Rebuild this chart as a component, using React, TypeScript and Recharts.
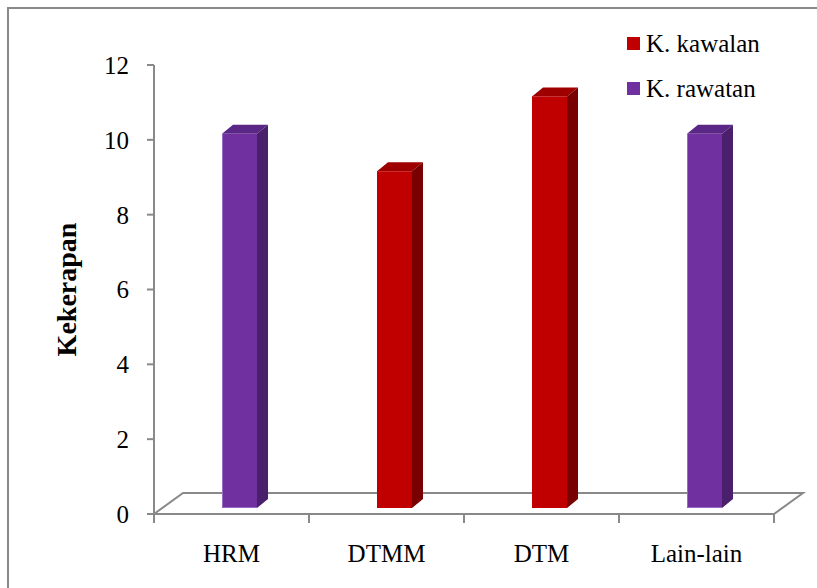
import React from 'react';
import { BarChart, Bar, XAxis, YAxis, Customized } from 'recharts';

const categories = ['HRM', 'DTMM', 'DTM', 'Lain-lain'];
const kawalan = [null, 9, 11, null];
const rawatan = [10, null, null, 10];
const yTicks = [0, 2, 4, 6, 8, 10, 12];

const data = categories.map((name, i) => ({
  name,
  kawalan: kawalan[i],
  rawatan: rawatan[i],
}));

const W = 817;
const H = 588;
const PLOT_LEFT = 154;
const PLOT_RIGHT = 774;
const PLOT_TOP = 65;
const PLOT_BOTTOM = 514;
const YAXIS_W = 60;
const XAXIS_H = 40;

const AXIS = '#898989';
const FONT = 'Liberation Serif, Times New Roman, serif';

// 3D look: depth of the bar top / side, and shift of the bar into the floor
const DEPTH_X = 11;
const DEPTH_Y = 9;
const SHIFT_X = 8;
const SHIFT_Y = -6;

const shades: Record<string, { front: string; top: string; side: string; edge: string }> = {
  kawalan: { front: '#C00000', top: '#9E0000', side: '#780000', edge: '#C00000' },
  rawatan: { front: '#7030A0', top: '#5B2787', side: '#4A1F6B', edge: '#9A6BC4' },
};

const Bar3D = (key: string) => (props: any) => {
  const { x, y, width, height } = props;
  if (!height || height <= 0) return null;
  const c = shades[key];
  const fx = x + SHIFT_X;
  const fy = y + SHIFT_Y;
  return (
    <g>
      <polygon
        points={`${fx},${fy} ${fx + DEPTH_X},${fy - DEPTH_Y} ${fx + width + DEPTH_X},${fy - DEPTH_Y} ${fx + width},${fy}`}
        fill={c.top}
      />
      <polygon
        points={`${fx + width},${fy} ${fx + width + DEPTH_X},${fy - DEPTH_Y} ${fx + width + DEPTH_X},${fy + height - DEPTH_Y} ${fx + width},${fy + height}`}
        fill={c.side}
      />
      <rect x={fx} y={fy} width={width} height={height} fill={c.front} />
      <polyline
        points={`${fx + 0.5},${fy} ${fx + 0.5},${fy + height - 0.5} ${fx + width},${fy + height - 0.5}`}
        stroke={c.edge}
        strokeWidth={1}
        fill="none"
      />
    </g>
  );
};

// floor parallelogram + category boundary ticks
const Floor = () => {
  const fdx = 29;
  const fdy = 21;
  const band = (PLOT_RIGHT - PLOT_LEFT) / categories.length;
  const bounds = [0, ...categories.map((_, i) => i + 1)].map((i) => PLOT_LEFT + i * band);
  return (
    <g stroke={AXIS} strokeWidth={2} fill="none">
      <polyline
        points={`${PLOT_LEFT},${PLOT_BOTTOM} ${PLOT_LEFT + fdx},${PLOT_BOTTOM - fdy} ${PLOT_RIGHT + fdx},${PLOT_BOTTOM - fdy} ${PLOT_RIGHT},${PLOT_BOTTOM} ${PLOT_LEFT},${PLOT_BOTTOM}`}
      />
      {bounds.map((bx) => (
        <line key={bx} x1={bx} y1={PLOT_BOTTOM} x2={bx} y2={PLOT_BOTTOM + 9} />
      ))}
    </g>
  );
};

const legendItems = [
  { label: 'K. kawalan', color: '#C00000' },
  { label: 'K. rawatan', color: '#7030A0' },
];

export default function App() {
  return (
    <div
      style={{
        position: 'fixed',
        left: 0,
        top: 0,
        width: W,
        height: H,
        overflow: 'hidden',
        background: '#fff',
        fontFamily: FONT,
      }}
    >
      <div
        style={{
          position: 'absolute',
          left: 7,
          top: 7,
          width: 900,
          height: 700,
          border: `2px solid ${AXIS}`,
        }}
      />
      <div style={{ position: 'absolute', left: 0, top: 0 }}>
        <BarChart
          width={W}
          height={H}
          data={data}
          style={{ fontFamily: FONT }}
          margin={{
            top: PLOT_TOP,
            right: W - PLOT_RIGHT,
            bottom: H - PLOT_BOTTOM - XAXIS_H,
            left: PLOT_LEFT - YAXIS_W,
          }}
        >
          <Customized component={Floor} />
          <XAxis
            dataKey="name"
            axisLine={false}
            tickLine={false}
            tickSize={9}
            tickMargin={21}
            height={XAXIS_H}
            interval={0}
            tick={{ fill: '#000', fontSize: 25 }}
          />
          <YAxis
            width={YAXIS_W}
            domain={[0, 12]}
            ticks={yTicks}
            interval={0}
            stroke={AXIS}
            axisLine={{ stroke: AXIS, strokeWidth: 2 }}
            tickLine={{ stroke: AXIS, strokeWidth: 2 }}
            tickSize={7}
            tickMargin={18}
            tick={{ fill: '#000', fontSize: 25 }}
            label={{
              content: () => (
                <text
                  x={76}
                  y={(PLOT_TOP + PLOT_BOTTOM) / 2}
                  transform={`rotate(-90, 76, ${(PLOT_TOP + PLOT_BOTTOM) / 2})`}
                  textAnchor="middle"
                  fontSize={28}
                  fontWeight="bold"
                  fill="#000"
                >
                  Kekerapan
                </text>
              ),
            }}
          />
          <Bar
            dataKey="kawalan"
            name="K. kawalan"
            stackId="a"
            barSize={35}
            fill="#C00000"
            shape={Bar3D('kawalan')}
            isAnimationActive={false}
          />
          <Bar
            dataKey="rawatan"
            name="K. rawatan"
            stackId="a"
            barSize={35}
            fill="#7030A0"
            shape={Bar3D('rawatan')}
            isAnimationActive={false}
          />
        </BarChart>
      </div>
      <div style={{ position: 'absolute', left: 627, top: 21, fontSize: 25, color: '#000' }}>
        {legendItems.map((it) => (
          <div key={it.label} style={{ display: 'flex', alignItems: 'center', height: 45 }}>
            <span
              style={{ width: 13, height: 13, background: it.color, marginRight: 6, display: 'inline-block' }}
            />
            <span style={{ whiteSpace: 'nowrap' }}>{it.label}</span>
          </div>
        ))}
      </div>
    </div>
  );
}
